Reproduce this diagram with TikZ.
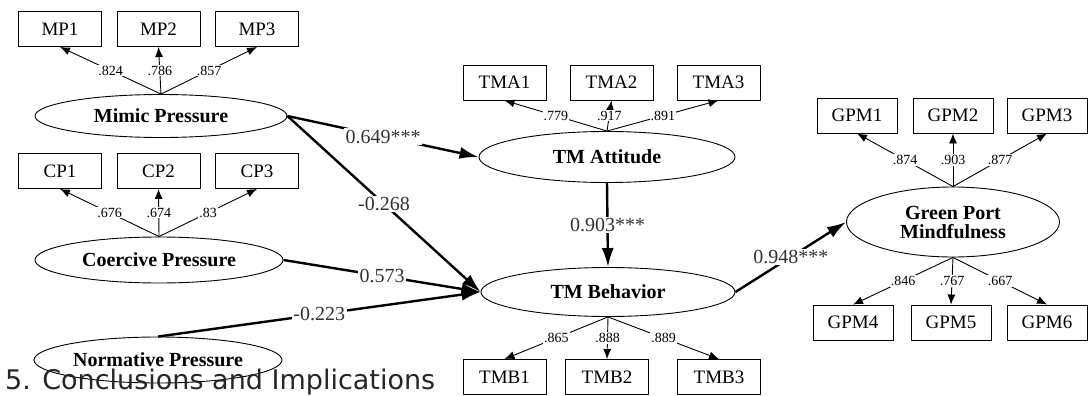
\documentclass[tikz,border=0pt]{standalone}
\usepackage{fontspec}
\setmainfont{Liberation Serif}
\newfontfamily\headfont{DejaVu Sans}
\usetikzlibrary{shapes.geometric,arrows.meta}
\begin{document}
\begin{tikzpicture}[x=1pt,y=-1pt,
  ind/.style={draw, line width=0.9pt, minimum width=83pt, minimum height=35pt,
    inner sep=0pt, font=\fontsize{19}{21}\selectfont},
  lat/.style={draw, ellipse, line width=0.9pt, inner sep=0pt, align=center,
    font=\bfseries\fontsize{20}{19}\selectfont},
  load/.style={line width=0.9pt, -{Latex[length=10pt,width=8pt]}},
  loadlab/.style={fill=white, inner sep=1pt, font=\fontsize{14}{16}\selectfont},
  pathar/.style={line width=2.4pt, -{Latex[length=19pt,width=12pt]}},
  pathlab/.style={fill=white, inner sep=1.5pt, text=black!80,
    font=\fontsize{20}{22}\selectfont}]
\useasboundingbox (0,0) rectangle (1088,396);

% latent constructs
\node[lat, minimum width=252pt, minimum height=43pt] (mp)  at (161,116) {Mimic Pressure};
\node[lat, minimum width=248pt, minimum height=46pt] (cp)  at (159,260) {Coercive Pressure};
\node[lat, minimum width=248pt, minimum height=46pt] (np)  at (158,360) {Normative Pressure};
\node[lat, minimum width=256pt, minimum height=51pt] (tma) at (607,157) {TM Attitude};
\node[lat, minimum width=254pt, minimum height=49pt] (tmb) at (608,292) {TM Behavior};
\node[lat, minimum width=213pt, minimum height=70pt] (gpm) at (953,222) {Green Port\\Mindfulness};

% indicators
\node[ind] (mp1) at (60,29)    {MP1};
\node[ind] (mp2) at (158.5,29) {MP2};
\node[ind] (mp3) at (257,29)   {MP3};
\node[ind] (cp1) at (60,171)    {CP1};
\node[ind] (cp2) at (158.5,171) {CP2};
\node[ind] (cp3) at (257,171)   {CP3};
\node[ind] (tma1) at (504.5,82.5) {TMA1};
\node[ind] (tma2) at (611.5,82.5) {TMA2};
\node[ind] (tma3) at (718.5,82.5) {TMA3};
\node[ind] (tmb1) at (504.5,377) {TMB1};
\node[ind] (tmb2) at (607,377)   {TMB2};
\node[ind] (tmb3) at (719,377)   {TMB3};
\node[ind, minimum width=80pt] (gpm1) at (857,115.5)  {GPM1};
\node[ind, minimum width=80pt] (gpm2) at (953,115.5)  {GPM2};
\node[ind, minimum width=80pt] (gpm3) at (1047,115.5) {GPM3};
\node[ind, minimum width=80pt] (gpm4) at (853,322.5)  {GPM4};
\node[ind, minimum width=80pt] (gpm5) at (951,322.5)  {GPM5};
\node[ind, minimum width=80pt] (gpm6) at (1047,322.5) {GPM6};

% factor loadings
\draw[load] (mp.north) -- node[loadlab]{.824} (mp1.south);
\draw[load] (mp.north) -- node[loadlab]{.786} (mp2.south);
\draw[load] (mp.north) -- node[loadlab]{.857} (mp3.south);
\draw[load] (cp.north) -- node[loadlab]{.676} (cp1.south);
\draw[load] (cp.north) -- node[loadlab]{.674} (cp2.south);
\draw[load] (cp.north) -- node[loadlab]{.83} (cp3.south);
\draw[load] (tma.north) -- node[loadlab]{.779} (tma1.south);
\draw[load] (tma.north) -- node[loadlab]{.917} (tma2.south);
\draw[load] (tma.north) -- node[loadlab]{.891} (tma3.south);
\draw[load] (tmb.south) -- node[loadlab]{.865} (tmb1.north);
\draw[load] (tmb.south) -- node[loadlab]{.888} (tmb2.north);
\draw[load] (tmb.south) -- node[loadlab]{.889} (tmb3.north);
\draw[load] (gpm.north) -- node[loadlab]{.874} (gpm1.south);
\draw[load] (gpm.north) -- node[loadlab]{.903} (gpm2.south);
\draw[load] (gpm.north) -- node[loadlab]{.877} (gpm3.south);
\draw[load] (gpm.south) -- node[loadlab]{.846} (gpm4.north);
\draw[load] (gpm.south) -- node[loadlab]{.767} (gpm5.north);
\draw[load] (gpm.south) -- node[loadlab]{.667} (gpm6.north);

% structural paths
\draw[pathar] (mp.east) -- node[pathlab]{0.649***} (tma.west);
\draw[pathar] (mp.east) -- node[pathlab]{-0.268} (tmb.west);
\draw[pathar] (cp.east) -- node[pathlab]{0.573} (tmb.west);
\draw[pathar] (np.north) -- node[pathlab]{-0.223} (tmb.west);
\draw[pathar] (tma.south) -- node[pathlab]{0.903***} (tmb.north);
\draw[pathar] (tmb.east) -- node[pathlab]{0.948***} (gpm.west);

% section heading running over the figure
\node[anchor=base west, inner sep=0pt, text=black!85,
  font=\headfont\fontsize{27}{32}\selectfont] (head) at (5,389)
  {5. Conclusions and Implications};
\end{tikzpicture}
\end{document}
